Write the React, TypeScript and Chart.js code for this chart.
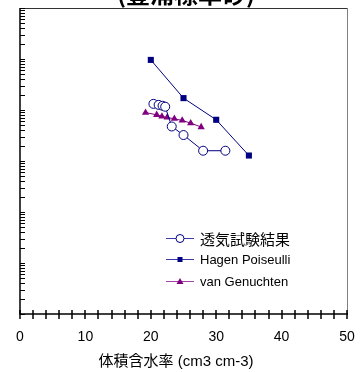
import React, { useEffect, useRef } from "react";
import { Chart, registerables } from "chart.js";

Chart.register(...registerables);

const chartTitle = "(豊浦標準砂)";
const xAxisTitle = "体積含水率 (cm3 cm-3)";
const xTickLabels = [0, 10, 20, 30, 40, 50];

const seriesNames = ["透気試験結果", "Hagen Poiseulli", "van Genuchten"];

const thetaExp = [20.4, 21.2, 21.8, 22.2, 23.2, 25.0, 28.0, 31.4];
const kExp = [1.32e-8, 1.26e-8, 1.21e-8, 1.16e-8, 4.75e-9, 3.23e-9, 1.59e-9, 1.59e-9];

const thetaHP = [20, 25, 30, 35];
const kHP = [9.6e-8, 1.71e-8, 6.43e-9, 1.28e-9];

const thetaVG = [19.2, 20.9, 21.7, 22.5, 23.6, 24.8, 26.1, 27.7];
const kVG = [8.9e-9, 8.05e-9, 7.46e-9, 7.13e-9, 6.73e-9, 6.23e-9, 5.54e-9, 4.63e-9];

const yMin = 1e-12;
const yMax = 1e-6;
const xMin = 0;
const xMax = 50;

const NAVY = "#000080";
const PURPLE = "#800080";
const FONT = '"Liberation Sans", Arial, "Noto Sans CJK JP", sans-serif';
const CJK = '"Noto Sans CJK JP", "Liberation Sans", sans-serif';

const pts = (xs: number[], ys: number[]) => xs.map((x, i) => ({ x, y: ys[i] }));

const decorPlugin = {
  id: "decor",
  afterDraw(chart: any) {
    const { ctx, chartArea } = chart;
    const xs = chart.scales.x;
    const ys = chart.scales.y;
    const { left, right, top, bottom } = chartArea;
    ctx.save();
    // frame
    ctx.lineWidth = 1;
    ctx.strokeStyle = "#808080";
    ctx.beginPath();
    ctx.moveTo(right + 0.5, top);
    ctx.lineTo(right + 0.5, bottom);
    ctx.stroke();
    ctx.strokeStyle = "#333";
    ctx.beginPath();
    ctx.moveTo(left, top + 0.5);
    ctx.lineTo(right, top + 0.5);
    ctx.stroke();
    ctx.strokeStyle = "#000";
    ctx.lineWidth = 1.5;
    ctx.beginPath();
    ctx.moveTo(left, top);
    ctx.lineTo(left, bottom);
    ctx.lineTo(right + 1, bottom);
    ctx.stroke();
    // y ticks (inside)
    ctx.lineWidth = 1;
    const eMin = Math.round(Math.log10(yMin));
    const eMax = Math.round(Math.log10(yMax));
    for (let e = eMin; e <= eMax; e++) {
      for (let m = 1; m <= 9; m++) {
        const v = m * Math.pow(10, e);
        if (v < yMin * 0.999 || v > yMax * 1.001) continue;
        const py = Math.round(ys.getPixelForValue(v)) + 0.5;
        ctx.beginPath();
        ctx.moveTo(left, py);
        ctx.lineTo(left + 5, py);
        ctx.stroke();
      }
    }
    // x ticks (crossing)
    ctx.lineWidth = 1.5;
    for (let v = xMin; v <= xMax; v += 2) {
      const px = Math.round(xs.getPixelForValue(v));
      ctx.beginPath();
      ctx.moveTo(px, bottom - 4);
      ctx.lineTo(px, bottom + 5);
      ctx.stroke();
    }
    // title
    ctx.fillStyle = "#000";
    ctx.font = "bold 24px " + CJK;
    ctx.textAlign = "center";
    ctx.textBaseline = "alphabetic";
    ctx.fillText(chartTitle, 186, 3);
    // x axis title
    ctx.font = "15px " + FONT;
    ctx.textBaseline = "middle";
    ctx.fillText(xAxisTitle, 176, 362);
    // legend
    const items = [
      { name: seriesNames[0], color: NAVY, line: "#3a3aa8", style: "circle", font: "15px " + CJK, y: 238 },
      { name: seriesNames[1], color: NAVY, line: "#3a3aa8", style: "rect", font: "13px " + FONT, y: 259 },
      { name: seriesNames[2], color: PURPLE, line: "#a040a0", style: "triangle", font: "13px " + FONT, y: 281 },
    ];
    for (const it of items) {
      ctx.strokeStyle = it.line;
      ctx.lineWidth = 1;
      ctx.beginPath();
      ctx.moveTo(166, it.y + 0.5);
      ctx.lineTo(194, it.y + 0.5);
      ctx.stroke();
      const cx = 180;
      const cy = it.y + 0.5;
      if (it.style === "circle") {
        ctx.beginPath();
        ctx.arc(cx, cy, 4, 0, Math.PI * 2);
        ctx.fillStyle = "#fff";
        ctx.fill();
        ctx.strokeStyle = it.color;
        ctx.stroke();
      } else if (it.style === "rect") {
        ctx.fillStyle = it.color;
        ctx.fillRect(cx - 2.5, cy - 2.5, 5, 5);
      } else {
        ctx.fillStyle = it.color;
        ctx.beginPath();
        ctx.moveTo(cx, cy - 3.5);
        ctx.lineTo(cx + 3.5, cy + 2.5);
        ctx.lineTo(cx - 3.5, cy + 2.5);
        ctx.closePath();
        ctx.fill();
      }
      ctx.fillStyle = "#000";
      ctx.font = it.font;
      ctx.textAlign = "left";
      ctx.textBaseline = "middle";
      ctx.fillText(it.name, 200, it.y + 1);
    }
    ctx.restore();
  },
};

export default function App() {
  const ref = useRef<HTMLCanvasElement | null>(null);
  useEffect(() => {
    if (!ref.current) return;
    const chart = new Chart(ref.current, {
      type: "scatter",
      data: {
        datasets: [
          {
            label: seriesNames[0],
            data: pts(thetaExp, kExp),
            showLine: true,
            borderColor: NAVY,
            borderWidth: 1,
            backgroundColor: "#fff",
            pointStyle: "circle",
            pointRadius: 4.5,
            pointBorderColor: NAVY,
            pointBackgroundColor: "#fff",
            pointBorderWidth: 1,
          },
          {
            label: seriesNames[1],
            data: pts(thetaHP, kHP),
            showLine: true,
            borderColor: NAVY,
            borderWidth: 1,
            backgroundColor: NAVY,
            pointStyle: "rect",
            pointRadius: 4.3,
            pointBorderWidth: 0,
            pointBackgroundColor: NAVY,
          },
          {
            label: seriesNames[2],
            data: pts(thetaVG, kVG),
            showLine: true,
            borderColor: PURPLE,
            borderWidth: 1,
            backgroundColor: PURPLE,
            pointStyle: "triangle",
            pointRadius: 4.2,
            pointBorderWidth: 0,
            pointBackgroundColor: PURPLE,
          },
        ],
      },
      options: {
        animation: false,
        responsive: false,
        maintainAspectRatio: false,
        layout: { padding: { left: 20, right: 15, top: 8, bottom: 0 } },
        plugins: {
          legend: { display: false },
          tooltip: { enabled: false },
          title: { display: false },
        },
        scales: {
          x: {
            type: "linear",
            min: xMin,
            max: xMax,
            border: { display: false },
            grid: { display: false, drawTicks: false },
            afterBuildTicks: (scale: any) => {
              scale.ticks = xTickLabels.map((v) => ({ value: v }));
            },
            afterFit: (scale: any) => {
              scale.height = 58;
              scale.paddingLeft = 0;
              scale.paddingRight = 0;
            },
            ticks: {
              autoSkip: false,
              maxRotation: 0,
              padding: 15,
              color: "#000",
              font: { family: FONT, size: 14 },
            },
          },
          y: {
            type: "logarithmic",
            min: yMin,
            max: yMax,
            display: false,
          },
        },
      },
      plugins: [decorPlugin],
    } as any);
    return () => chart.destroy();
  }, []);
  return (
    <div style={{ position: "fixed", left: 0, top: 0, width: 362, height: 372, background: "#fff" }}>
      <canvas ref={ref} width={362} height={372} style={{ width: 362, height: 372, display: "block" }} />
    </div>
  );
}
